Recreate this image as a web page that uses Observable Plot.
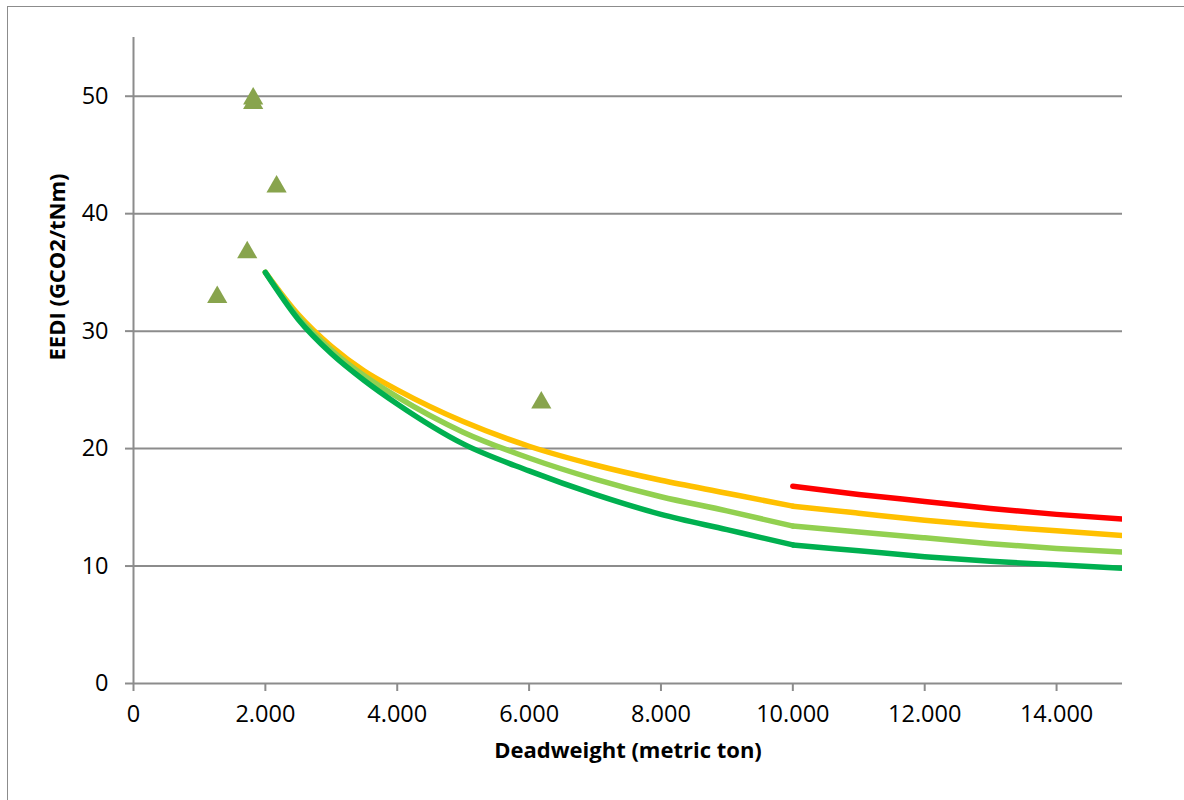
<!DOCTYPE html>
<html><head><meta charset="utf-8">
<script src="https://cdn.jsdelivr.net/npm/d3@7"></script>
<script src="https://cdn.jsdelivr.net/npm/@observablehq/plot@0.6"></script>
<style>
html,body{margin:0;padding:0;background:#fff;overflow:hidden;}
#wrap{position:relative;width:1184px;height:800px;overflow:hidden;background:#fff;}
#frame{position:absolute;left:7px;top:6px;width:1300px;height:900px;border:1.5px solid #8c8c8c;box-sizing:border-box;pointer-events:none;}
#chart{position:absolute;left:0;top:0;}
</style></head><body>
<div id="wrap"><div id="frame"></div><div id="chart"></div></div>
<script>
// Axis ticks and labels
const xTicks = [0, 2000, 4000, 6000, 8000, 10000, 12000, 14000];
const xTickLabels = ["0", "2.000", "4.000", "6.000", "8.000", "10.000", "12.000", "14.000"];
const yTicks = [0, 10, 20, 30, 40, 50];
const xTitle = "Deadweight (metric ton)";
const yTitle = "EEDI (GCO2/tNm)";

// Curves below 10.000 DWT
const dwtLow = [2000, 2500, 3000, 3500, 4000, 5000, 6000, 7000, 8000, 9000, 10000];
const yellowLow = [35.0, 31.4, 28.7, 26.6, 25.0, 22.3, 20.2, 18.6, 17.3, 16.2, 15.1];
const lightLow  = [35.0, 31.2, 28.4, 26.2, 24.4, 21.4, 19.2, 17.4, 15.9, 14.7, 13.4];
const darkLow   = [35.0, 31.0, 28.1, 25.8, 23.8, 20.4, 18.1, 16.1, 14.4, 13.1, 11.8];

// Curves from 10.000 DWT
const dwtHigh = [10000, 11000, 12000, 13000, 14000, 15000];
const redHigh    = [16.8, 16.1, 15.5, 14.9, 14.4, 14.0];
const yellowHigh = [15.1, 14.5, 13.9, 13.4, 13.0, 12.6];
const lightHigh  = [13.4, 12.9, 12.4, 11.9, 11.5, 11.2];
const darkHigh   = [11.8, 11.3, 10.8, 10.4, 10.1, 9.8];

// Individual ships (triangles)
const shipDwt  = [1270, 1725, 1815, 1815, 2170, 6185];
const shipEedi = [32.9, 36.7, 49.8, 49.4, 42.3, 23.9];

const seriesNames = ["red", "yellow", "light", "dark"];
const seriesColors = ["#ff0000", "#ffc000", "#92d050", "#00b050"];

const rows = [];
function add(name, seg, xs, ys) { xs.forEach((x, i) => rows.push({series: name, key: name + seg, dwt: x, eedi: ys[i]})); }
add("red", "B", dwtHigh, redHigh);
add("yellow", "A", dwtLow, yellowLow);
add("yellow", "B", dwtHigh, yellowHigh);
add("light", "A", dwtLow, lightLow);
add("light", "B", dwtHigh, lightHigh);
add("dark", "A", dwtLow, darkLow);
add("dark", "B", dwtHigh, darkHigh);

const ships = shipDwt.map((d, i) => ({dwt: d, eedi: shipEedi[i]}));

const axisColor = "#8c8c8c";
const chart = Plot.plot({
  width: 1184, height: 800,
  marginLeft: 133, marginRight: 62, marginTop: 37, marginBottom: 117,
  style: {fontFamily: "'Open Sans', sans-serif", fontSize: "23.5px", color: "#000", background: "transparent"},
  x: {domain: [0, 15000]},
  y: {domain: [0, 55]},
  color: {domain: seriesNames, range: seriesColors},
  marks: [
    Plot.gridY({ticks: yTicks.filter(d => d > 0), stroke: axisColor, strokeOpacity: 1, strokeWidth: 2}),
    Plot.ruleX([0], {stroke: axisColor, strokeWidth: 2}),
    Plot.ruleY([0], {stroke: axisColor, strokeWidth: 2}),
    Plot.axisY({ticks: yTicks, tickSize: 8, tickPadding: 17, stroke: axisColor, strokeWidth: 2, fill: "#000", fontSize: 23.5, label: null}),
    Plot.axisX({ticks: xTicks, tickFormat: (d, i) => xTickLabels[xTicks.indexOf(d)], tickSize: 8, tickPadding: 14, stroke: axisColor, strokeWidth: 2, fill: "#000", fontSize: 23.5, label: null}),
    Plot.line(rows, {x: "dwt", y: "eedi", z: "key", stroke: "series", strokeWidth: 5.5, curve: "monotone-x", strokeLinecap: "round", strokeLinejoin: "round", clip: true}),
    Plot.dot(ships, {x: "dwt", y: "eedi", symbol: "triangle", r: 7.5, fill: "#88a44d", stroke: "none"}),
    Plot.text([xTitle], {frameAnchor: "bottom", dy: 74, fontWeight: "bold", fontSize: 22, fill: "#000"}),
    Plot.text([yTitle], {frameAnchor: "left", dx: -76, rotate: -90, fontWeight: "bold", fontSize: 22, fill: "#000"})
  ]
});
document.getElementById("chart").appendChild(chart);
</script></body></html>
